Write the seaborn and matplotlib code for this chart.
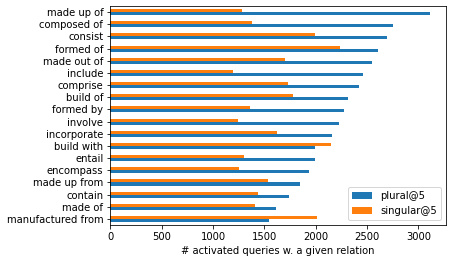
import pandas as pd
import matplotlib
matplotlib.use("Agg")
import matplotlib.pyplot as plt
import seaborn as sns

relacoes = ["made up of", "composed of", "consist", "formed of", "made out of",
            "include", "comprise", "build of", "formed by", "involve",
            "incorporate", "build with", "entail", "encompass", "made up from",
            "contain", "made of", "manufactured from"]
plural = [3110, 2750, 2690, 2605, 2545, 2460, 2420, 2310, 2275, 2225,
          2155, 1990, 1990, 1935, 1845, 1740, 1610, 1545]
singular = [1280, 1380, 1990, 2235, 1700, 1195, 1730, 1775, 1360, 1240,
            1620, 2150, 1300, 1250, 1535, 1435, 1405, 2010]


def montar_df():
    n = len(relacoes)
    df = pd.DataFrame({
        "relation": relacoes * 2,
        "count": singular + plural,
        "serie": ["singular@5"] * n + ["plural@5"] * n,
    })
    return df


def grafico(df):
    fig = plt.figure(figsize=(452 / 72, 262 / 72), dpi=72)
    ax = fig.add_axes([0.244, 0.141, 0.742, 0.836])
    sns.barplot(
        data=df, x="count", y="relation", hue="serie",
        hue_order=["singular@5", "plural@5"],
        palette={"plural@5": "#1f77b4", "singular@5": "#ff7f0e"},
        orient="h", width=0.5, gap=0, saturation=1, ax=ax,
    )
    ax.set_ylabel("")
    ax.set_xlabel("# activated queries w. a given relation")
    ax.set_ylim(len(relacoes) - 0.5, -0.5)
    handles, labels = ax.get_legend_handles_labels()
    ax.legend(handles[::-1], labels[::-1], loc="lower right")
    fig.savefig("out.png", dpi=72)
    plt.close(fig)


def main():
    grafico(montar_df())


if __name__ == "__main__":
    main()
